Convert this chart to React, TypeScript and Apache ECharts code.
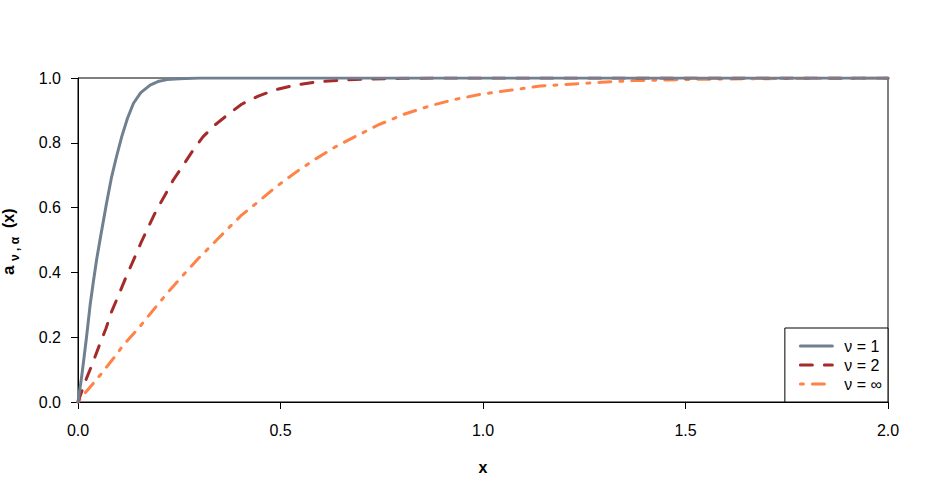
import React, { useEffect, useRef } from "react";
import * as echarts from "echarts";

const xTicks = [0, 0.5, 1, 1.5, 2];
const yTicks = [0, 0.2, 0.4, 0.6, 0.8, 1];

const seriesNames = ["ν = 1", "ν = 2", "ν = ∞"];
const seriesColors = ["#708090", "#A52A2A", "#FF8247"];

const nu1X = [0, 0.009, 0.015, 0.021, 0.03, 0.038, 0.046, 0.055, 0.07, 0.083, 0.095, 0.108, 0.122, 0.137, 0.155, 0.178, 0.2, 0.22, 0.25, 0.3, 0.5, 1, 1.5, 2];
const nu1Y = [0, 0.078, 0.138, 0.2, 0.3, 0.372, 0.44, 0.505, 0.61, 0.695, 0.757, 0.819, 0.875, 0.922, 0.955, 0.978, 0.99, 0.995, 0.998, 1, 1, 1, 1, 1];

const nu2X = [0, 0.005, 0.021, 0.036, 0.053, 0.069, 0.083, 0.102, 0.119, 0.137, 0.155, 0.174, 0.194, 0.215, 0.235, 0.26, 0.283, 0.309, 0.338, 0.371, 0.404, 0.445, 0.486, 0.536, 0.589, 0.643, 0.7, 0.8, 0.9, 1, 1.5, 2];
const nu2Y = [0, 0.018, 0.073, 0.119, 0.176, 0.227, 0.279, 0.335, 0.387, 0.438, 0.49, 0.541, 0.593, 0.639, 0.685, 0.731, 0.775, 0.819, 0.855, 0.888, 0.919, 0.944, 0.963, 0.978, 0.988, 0.993, 0.996, 0.999, 1, 1, 1, 1];

const nuInfX = [0, 0.017, 0.038, 0.058, 0.091, 0.112, 0.149, 0.186, 0.223, 0.26, 0.297, 0.322, 0.363, 0.404, 0.445, 0.49, 0.54, 0.589, 0.639, 0.692, 0.741, 0.807, 0.869, 0.931, 1.0, 1.071, 1.141, 1.215, 1.293, 1.371, 1.454, 1.524, 1.6, 1.7, 1.8, 2];
const nuInfY = [0, 0.027, 0.058, 0.088, 0.14, 0.176, 0.227, 0.284, 0.34, 0.392, 0.443, 0.474, 0.526, 0.577, 0.618, 0.665, 0.711, 0.752, 0.79, 0.824, 0.855, 0.889, 0.914, 0.934, 0.951, 0.963, 0.975, 0.981, 0.987, 0.992, 0.994, 0.996, 0.997, 0.998, 0.999, 1];

const FONT = "'Liberation Sans', Arial, sans-serif";

function pairs(xs: number[], ys: number[]) {
  return xs.map((x, i) => [x, ys[i]]);
}

export default function App() {
  const ref = useRef<HTMLDivElement>(null);
  useEffect(() => {
    document.body.style.margin = "0";
    const chart = echarts.init(ref.current!, undefined, { renderer: "svg" });
    const dashes = [null, [12, 12], [3, 9, 12, 9]];
    const datasets = [pairs(nu1X, nu1Y), pairs(nu2X, nu2Y), pairs(nuInfX, nuInfY)];
    chart.setOption({
      animation: false,
      backgroundColor: "#fff",
      grid: {
        left: 78,
        right: 41,
        top: 78,
        bottom: 98,
        show: true,
        borderColor: "#000",
        borderWidth: 1,
        backgroundColor: "transparent",
      },
      xAxis: {
        type: "value",
        min: xTicks[0],
        max: xTicks[xTicks.length - 1],
        interval: 0.5,
        name: "x",
        nameLocation: "middle",
        nameGap: 57,
        nameTextStyle: { color: "#000", fontSize: 16, fontFamily: FONT, fontWeight: "bold" },
        axisLine: { show: true, lineStyle: { color: "#000", width: 1 } },
        axisTick: { show: true, inside: false, length: 7, lineStyle: { color: "#000" } },
        axisLabel: {
          color: "#000",
          fontSize: 16,
          fontFamily: FONT,
          margin: 20,
          formatter: (v: number) => v.toFixed(1),
        },
        splitLine: { show: false },
      },
      yAxis: {
        type: "value",
        min: yTicks[0],
        max: yTicks[yTicks.length - 1],
        interval: 0.2,
        axisLine: { show: true, lineStyle: { color: "#000", width: 1 } },
        axisTick: { show: true, inside: false, length: 7, lineStyle: { color: "#000" } },
        axisLabel: {
          color: "#000",
          fontSize: 16,
          fontFamily: FONT,
          margin: 17,
          formatter: (v: number) => v.toFixed(1),
        },
        splitLine: { show: false },
      },
      legend: {
        orient: "vertical",
        right: 41,
        bottom: 98,
        padding: [10, 6, 10, 14],
        itemGap: 3,
        itemWidth: 32,
        itemHeight: 16,
        backgroundColor: "#fff",
        borderColor: "#000",
        borderWidth: 1,
        borderRadius: 0,
        itemStyle: { opacity: 0 },
        lineStyle: { width: 3, cap: "round" },
        textStyle: { color: "#000", fontSize: 16, fontFamily: FONT, padding: [0, 0, 0, 7] },
        data: seriesNames,
      },
      graphic: [
        {
          type: "group",
          x: 8,
          y: 240,
          rotation: Math.PI / 2,
          children: [
            {
              type: "text",
              x: -35,
              y: 0,
              style: { text: "a", fontSize: 17, fontWeight: "bold", fontFamily: FONT, fill: "#000", verticalAlign: "middle", align: "left" },
            },
            {
              type: "text",
              x: -21,
              y: 7,
              style: { text: "ν , α", fontSize: 12, fontWeight: "bold", fontFamily: FONT, fill: "#000", verticalAlign: "middle", align: "left" },
            },
            {
              type: "text",
              x: 12,
              y: 0,
              style: { text: "(x)", fontSize: 16, fontWeight: "bold", fontFamily: FONT, fill: "#000", verticalAlign: "middle", align: "left" },
            },
          ],
        },
      ],
      series: datasets.map((d, i) => ({
        name: seriesNames[i],
        type: "line",
        data: d,
        symbol: "none",
        showSymbol: false,
        smooth: false,
        color: seriesColors[i],
        lineStyle: {
          color: seriesColors[i],
          width: 3,
          type: dashes[i] ? dashes[i] : "solid",
          cap: "round",
          join: "round",
        },
        z: 3 - i,
      })),
    });
    return () => chart.dispose();
  }, []);
  return <div ref={ref} style={{ width: 929, height: 500 }} />;
}
